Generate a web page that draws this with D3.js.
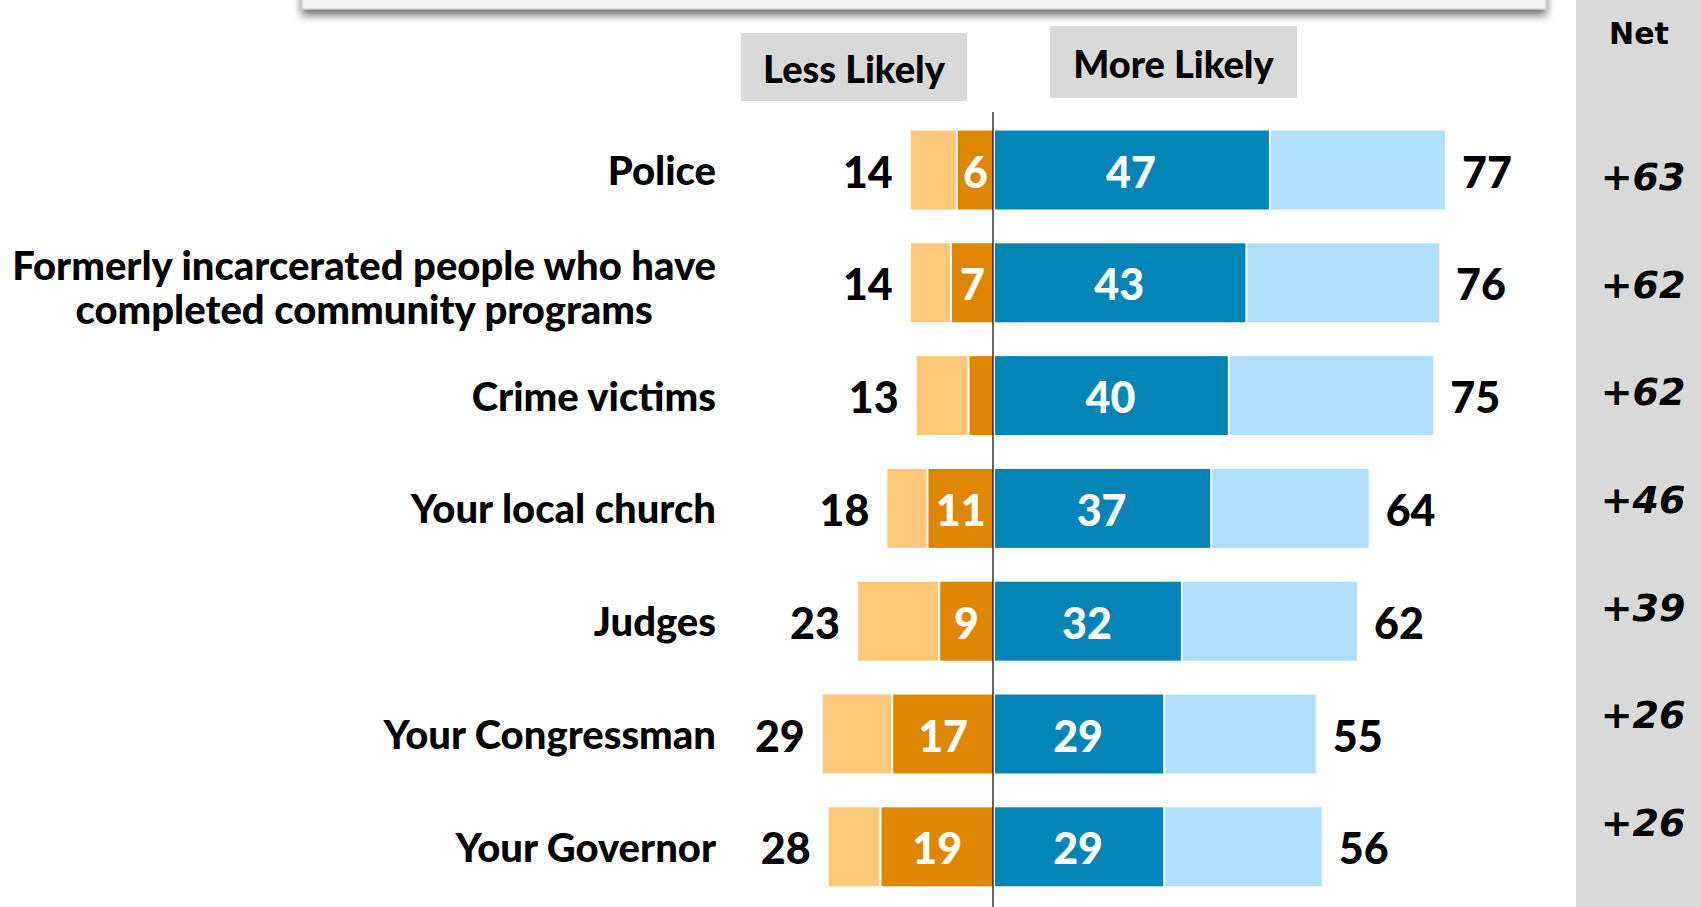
<!DOCTYPE html>
<html>
<head>
<meta charset="utf-8">
<script src="https://cdn.jsdelivr.net/npm/d3@7/dist/d3.min.js"></script>
<style>
  html, body { margin: 0; padding: 0; background: #fff; }
  svg { display: block; }
</style>
</head>
<body>
<svg id="chart" width="1701" height="907"></svg>
<script>
// Survey items and their shares (%)
const categories = [
  "Police",
  "Formerly incarcerated people who have|completed community programs",
  "Crime victims",
  "Your local church",
  "Judges",
  "Your Congressman",
  "Your Governor"
];
const lessTotal   = [14, 14, 13, 18, 23, 29, 28];   // total "less likely"
const lessStrong  = [6, 7, 4, 11, 9, 17, 19];       // "much less likely"
const moreStrong  = [47, 43, 40, 37, 32, 29, 29];   // "much more likely"
const moreTotal   = [77, 76, 75, 64, 62, 55, 56];   // total "more likely"
const netValues   = ["+63", "+62", "+62", "+46", "+39", "+26", "+26"];
const headers     = ["Less Likely", "More Likely"];

const colors = {
  lessLight: "#FEC87B",
  lessDark: "#DF8600",
  moreDark: "#0285B6",
  moreLight: "#B0DFFD",
  panel: "#D9D9D9"
};

const labelFont = "Lato, 'Open Sans', sans-serif";
const labelWeight = 900;
const netFont = "'DejaVu Sans', Verdana, sans-serif";

const svg = d3.select("#chart");
const W = 1701, H = 907;

// Scales
const x = d3.scaleLinear().domain([-30, 80]).range([993 - 30 * 5.87, 993 + 80 * 5.87]);
const y = d3.scaleBand().domain(categories).range([113.6, 903.2]).paddingInner(0.3).paddingOuter(0.15);
const yNet = d3.scalePoint().domain(categories).range([177, 823]);

// Shadowed frame along the top edge
const defs = svg.append("defs");
const f = defs.append("filter").attr("id", "shadow").attr("x", "-5%").attr("y", "-50%").attr("width", "110%").attr("height", "250%");
f.append("feDropShadow").attr("dx", 0).attr("dy", 6).attr("stdDeviation", 4).attr("flood-color", "#000").attr("flood-opacity", 0.55);
svg.append("rect")
  .attr("x", 302).attr("y", -60).attr("width", 1244).attr("height", 69)
  .attr("fill", "#f0f0f0").attr("stroke", "#c8c8c8").attr("stroke-width", 1)
  .attr("filter", "url(#shadow)");

// Net panel
svg.append("rect").attr("x", 1576).attr("y", 0).attr("width", W - 1576).attr("height", H).attr("fill", colors.panel);
svg.append("text")
  .attr("x", 1639).attr("y", 33)
  .attr("text-anchor", "middle").attr("dominant-baseline", "central")
  .style("font-family", netFont).style("font-weight", "bold").style("font-size", "30px")
  .text("Net");
svg.append("g").selectAll("text").data(categories).join("text")
  .attr("x", 1643).attr("y", d => yNet(d))
  .attr("text-anchor", "middle").attr("dominant-baseline", "central")
  .style("font-family", netFont).style("font-weight", "bold").style("font-style", "italic").style("font-size", "38px")
  .text((d, i) => netValues[i]);

// Header boxes
const headerBoxes = [
  { text: headers[0], x0: 741, x1: 967, y0: 33, y1: 101 },
  { text: headers[1], x0: 1050, x1: 1297, y0: 26, y1: 98 }
];
const hg = svg.append("g").selectAll("g").data(headerBoxes).join("g");
hg.append("rect")
  .attr("x", d => d.x0).attr("y", d => d.y0)
  .attr("width", d => d.x1 - d.x0).attr("height", d => d.y1 - d.y0)
  .attr("fill", colors.panel);
hg.append("text")
  .attr("x", d => (d.x0 + d.x1) / 2).attr("y", d => (d.y0 + d.y1) / 2 + 1)
  .attr("text-anchor", "middle").attr("dominant-baseline", "central")
  .style("font-family", labelFont).style("font-weight", labelWeight).style("font-size", "38px")
  .text(d => d.text);

// Bars
const rows = categories.map((c, i) => ({
  cat: c, lt: lessTotal[i], ls: lessStrong[i], ms: moreStrong[i], mt: moreTotal[i]
}));
const bh = y.bandwidth();
const gap = 2;
const barG = svg.append("g");
const row = barG.selectAll("g").data(rows).join("g");

// less likely: weak part (outer) and strong part (inner)
row.append("rect")
  .attr("x", d => x(-d.lt)).attr("y", d => y(d.cat))
  .attr("width", d => x(-d.ls) - x(-d.lt) - gap).attr("height", bh)
  .attr("fill", colors.lessLight);
row.append("rect")
  .attr("x", d => x(-d.ls)).attr("y", d => y(d.cat))
  .attr("width", d => x(0) - x(-d.ls)).attr("height", bh)
  .attr("fill", colors.lessDark);
// more likely: strong part (inner) and weak part (outer)
row.append("rect")
  .attr("x", d => x(0) + gap).attr("y", d => y(d.cat))
  .attr("width", d => x(d.ms) - x(0) - gap).attr("height", bh)
  .attr("fill", colors.moreDark);
row.append("rect")
  .attr("x", d => x(d.ms) + gap).attr("y", d => y(d.cat))
  .attr("width", d => x(d.mt) - x(d.ms) - gap).attr("height", bh)
  .attr("fill", colors.moreLight);

const numStyle = s => s.style("font-family", labelFont).style("font-weight", labelWeight).style("font-size", "43px")
  .attr("dominant-baseline", "central");

// inner labels
row.filter(d => d.ls >= 5).append("text")
  .attr("x", d => (x(-d.ls) + x(0)) / 2).attr("y", d => y(d.cat) + bh / 2 + 1)
  .attr("text-anchor", "middle").attr("fill", "#fff").call(numStyle)
  .text(d => d.ls);
row.append("text")
  .attr("x", d => (x(0) + x(d.ms)) / 2).attr("y", d => y(d.cat) + bh / 2 + 1)
  .attr("text-anchor", "middle").attr("fill", "#fff").call(numStyle)
  .text(d => d.ms);
// outer totals
row.append("text")
  .attr("x", d => x(-d.lt) - 18).attr("y", d => y(d.cat) + bh / 2 + 1)
  .attr("text-anchor", "end").attr("fill", "#000").call(numStyle)
  .text(d => d.lt);
row.append("text")
  .attr("x", d => x(d.mt) + 17).attr("y", d => y(d.cat) + bh / 2 + 1)
  .attr("text-anchor", "start").attr("fill", "#000").call(numStyle)
  .text(d => d.mt);

// zero line
svg.append("line")
  .attr("x1", x(0)).attr("x2", x(0)).attr("y1", 112).attr("y2", H)
  .attr("stroke", "#000").attr("stroke-width", 1.2);

// Category labels
const catG = svg.append("g");
const catSize = 40;
categories.forEach(c => {
  const lines = c.split("|");
  const cy = y(c) + bh / 2;
  if (lines.length === 1) {
    catG.append("text")
      .attr("x", 716).attr("y", cy)
      .attr("text-anchor", "end").attr("dominant-baseline", "central")
      .style("font-family", labelFont).style("font-weight", labelWeight).style("font-size", catSize + "px")
      .text(lines[0]);
  } else {
    const t1 = catG.append("text")
      .attr("x", 716).attr("y", cy - 18)
      .attr("text-anchor", "end").attr("dominant-baseline", "central")
      .style("font-family", labelFont).style("font-weight", labelWeight).style("font-size", catSize + "px")
      .text(lines[0]);
    const w1 = t1.node().getComputedTextLength();
    catG.append("text")
      .attr("x", 716 - w1 / 2).attr("y", cy + 26)
      .attr("text-anchor", "middle").attr("dominant-baseline", "central")
      .style("font-family", labelFont).style("font-weight", labelWeight).style("font-size", catSize + "px")
      .text(lines[1]);
  }
});
</script>
</body>
</html>
